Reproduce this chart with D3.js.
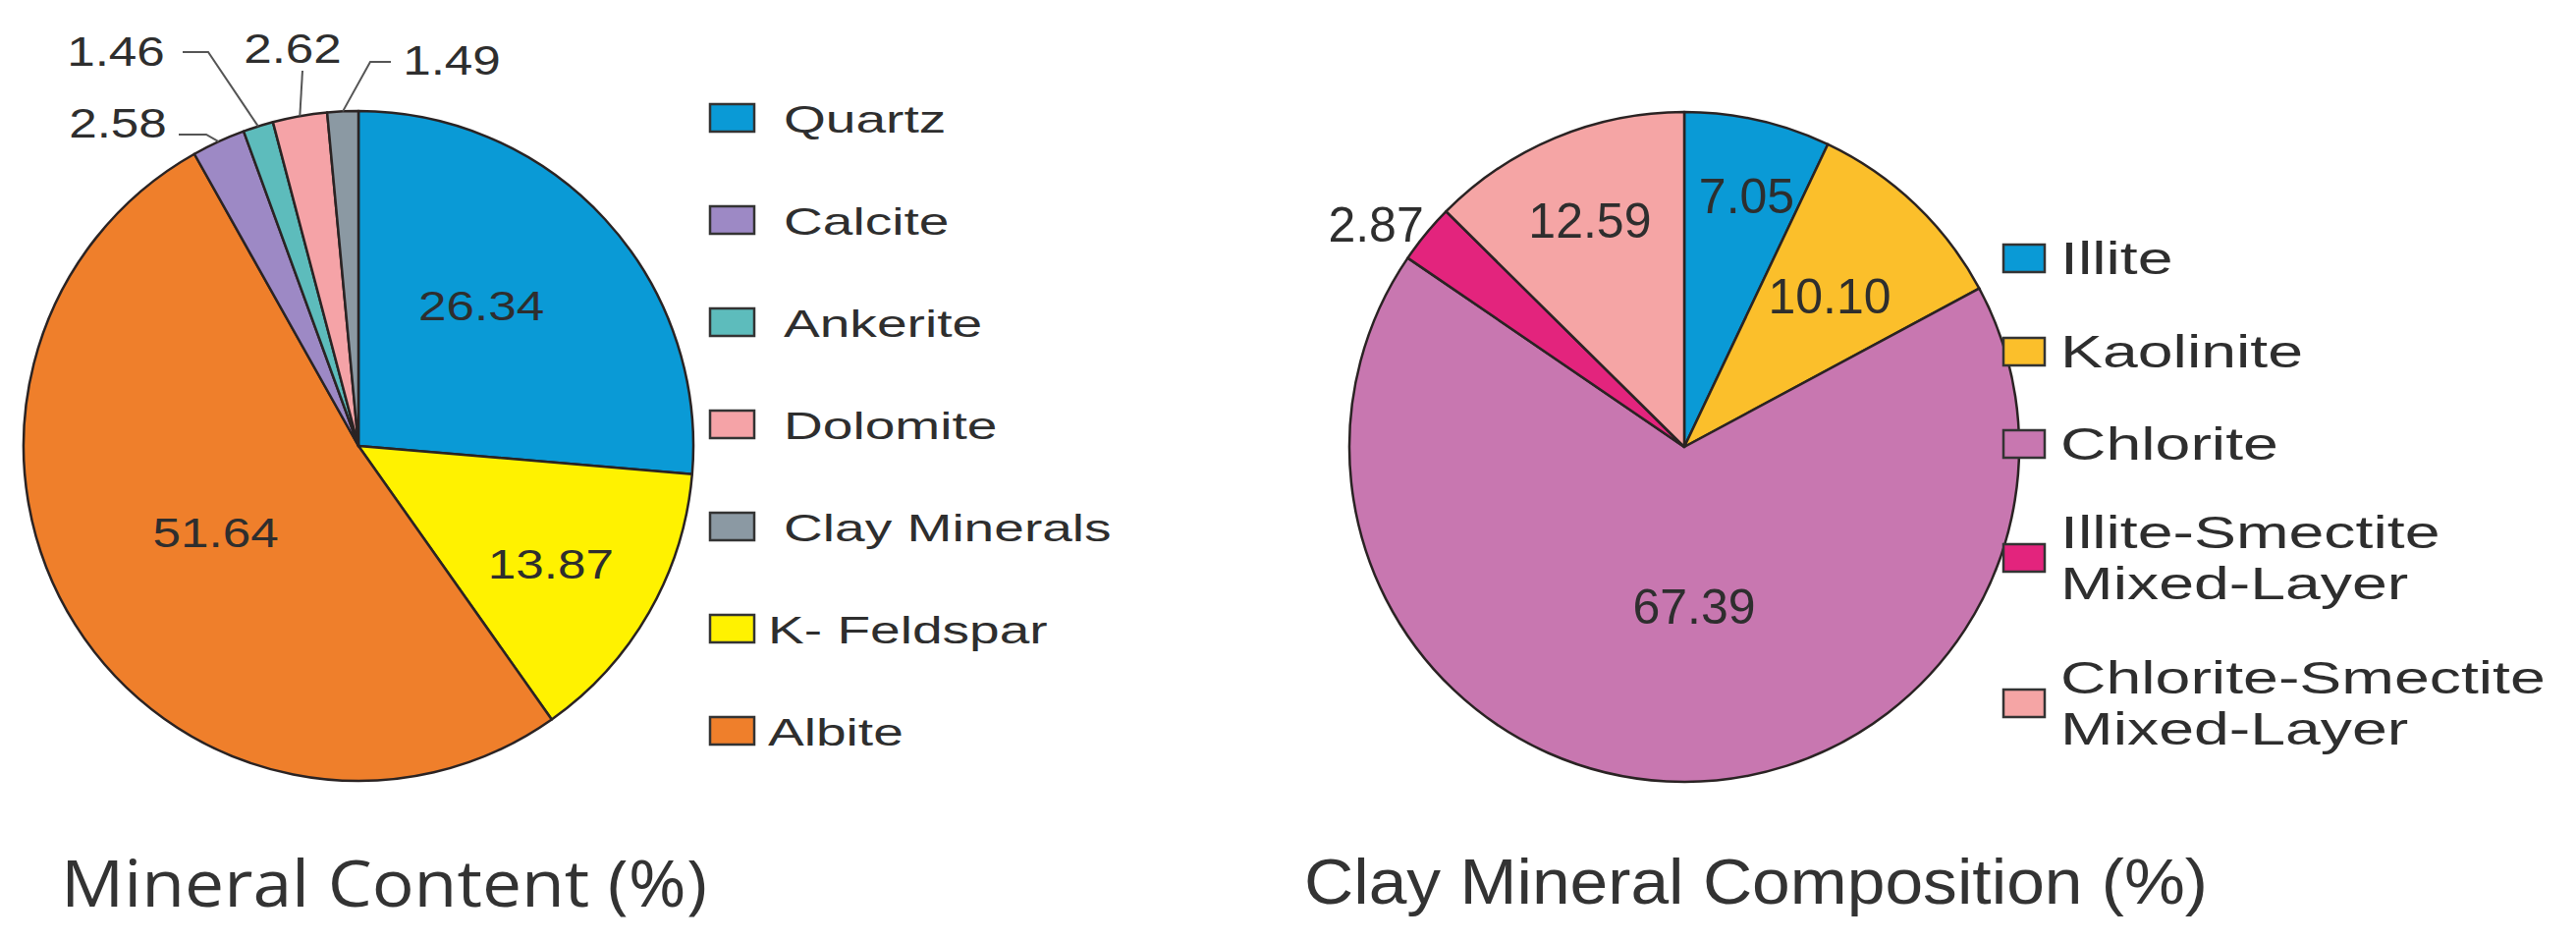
<!DOCTYPE html>
<html><head><meta charset="utf-8">
<script src="https://cdn.jsdelivr.net/npm/d3@7"></script>
<style>body{margin:0;background:#fff}svg{display:block}</style>
</head><body>
<svg id="c" width="2623" height="958"></svg>
<script>
// ---------- DATA ----------
const mineralCategories = ["Quartz", "K- Feldspar", "Albite", "Calcite", "Ankerite", "Dolomite", "Clay Minerals"];
const mineralValues = [26.34, 13.87, 51.64, 2.58, 1.46, 2.62, 1.49];
const mineralLegendOrder = ["Quartz", "Calcite", "Ankerite", "Dolomite", "Clay Minerals", "K- Feldspar", "Albite"];
const mineralTitle = "Mineral Content (%)";

const clayCategories = ["Illite", "Kaolinite", "Chlorite", "Illite-Smectite Mixed-Layer", "Chlorite-Smectite Mixed-Layer"];
const clayValues = [7.05, 10.10, 67.39, 2.87, 12.59];
const clayLegendLines = [["Illite"], ["Kaolinite"], ["Chlorite"], ["Illite-Smectite", "Mixed-Layer"], ["Chlorite-Smectite", "Mixed-Layer"]];
const clayTitle = "Clay Mineral Composition (%)";

// ---------- STYLE / LAYOUT ----------
const mineralColors = {
  "Quartz": "#0a9ad6", "Calcite": "#9d89c5", "Ankerite": "#5dbcbc", "Dolomite": "#f5a3a7",
  "Clay Minerals": "#8b99a3", "K- Feldspar": "#fff200", "Albite": "#ef7f2b"
};
const clayColors = {
  "Illite": "#0a9ad6", "Kaolinite": "#fbbf2b", "Chlorite": "#c877b0",
  "Illite-Smectite Mixed-Layer": "#e3247d", "Chlorite-Smectite Mixed-Layer": "#f5a5a5"
};
const TEXT = "#2e2e2e";
const STROKE = "#2a2323";
const FONT = "Liberation Sans, Arial, sans-serif";

const svg = d3.select("#c");
const pie = d3.pie().sort(null).value(d => d.v).startAngle(0).endAngle(2 * Math.PI);

function polar(cx, cy, ang, r) { return [cx + r * Math.sin(ang), cy - r * Math.cos(ang)]; }
function stretchedText(txt, x, y, fs, sx, anchor) {
  return svg.append("g").attr("transform", `translate(${x},${y}) scale(${sx},1)`)
    .append("text").text(txt).attr("font-family", FONT)
    .attr("font-size", fs).attr("fill", TEXT).attr("text-anchor", anchor || "start")
    .attr("dominant-baseline", "central");
}

// ---------- LEFT PIE ----------
(function () {
  const cx = 365, cy = 454, R = 341;
  const data = mineralCategories.map((c, i) => ({ c, v: mineralValues[i] }));
  const arcs = pie(data);
  const arc = d3.arc().innerRadius(0).outerRadius(R);
  const g = svg.append("g").attr("transform", `translate(${cx},${cy})`);
  g.selectAll("path").data(arcs).enter().append("path")
    .attr("d", arc).attr("fill", d => mineralColors[d.data.c])
    .attr("stroke", STROKE).attr("stroke-width", 2.5).attr("stroke-linejoin", "round");

  const sx = 1.22, fs = 42;
  // inside labels: [angle deg, radius frac]
  const inside = { "Quartz": [41.4, 0.555], "K- Feldspar": [121.7, 0.675], "Albite": [238.5, 0.5] };
  arcs.forEach(a => {
    const p = inside[a.data.c];
    if (p) {
      const [x, y] = polar(cx, cy, p[0] * Math.PI / 180, p[1] * R);
      stretchedText(a.data.v.toFixed(2), x, y, fs, sx, "middle");
    }
  });
  // outside labels with leader lines
  const outside = {
    "Calcite": { pts: [[210, 137], [182, 137]], tx: 120, ty: 126 },
    "Ankerite": { pts: [[212, 53], [186, 53]], tx: 118, ty: 53 },
    "Dolomite": { pts: [[308, 72]], tx: 298, ty: 50 },
    "Clay Minerals": { pts: [[377, 63], [398, 63]], tx: 460, ty: 62 }
  };
  arcs.forEach(a => {
    const o = outside[a.data.c];
    if (!o) return;
    const mid = (a.startAngle + a.endAngle) / 2;
    const start = polar(cx, cy, mid, R);
    svg.append("path").attr("d", d3.line()([start, ...o.pts])).attr("fill", "none")
      .attr("stroke", "#555").attr("stroke-width", 2);
    stretchedText(a.data.v.toFixed(2), o.tx, o.ty, fs, sx, "middle");
  });

  // legend
  const lx = 723, ly0 = 120, step = 104;
  mineralLegendOrder.forEach((c, i) => {
    const y = ly0 + i * step;
    svg.append("rect").attr("x", lx).attr("y", y - 14).attr("width", 45).attr("height", 28)
      .attr("fill", mineralColors[c]).attr("stroke", "#333").attr("stroke-width", 2.5);
    const tx = (c.startsWith("K-") || c === "Albite") ? 782 : 798;
    stretchedText(c, tx, y + 2, 38, 1.45, "start");
  });

  svg.append("text").text(mineralTitle).attr("x", 62).attr("y", 923)
    .attr("font-family", "Open Sans, Noto Sans, sans-serif").attr("font-size", 66)
    .attr("fill", "#333").attr("textLength", 658).attr("lengthAdjust", "spacingAndGlyphs");
})();

// ---------- RIGHT PIE ----------
(function () {
  const cx = 1715, cy = 455, R = 341;
  const data = clayCategories.map((c, i) => ({ c, v: clayValues[i] }));
  const arcs = pie(data);
  const arc = d3.arc().innerRadius(0).outerRadius(R);
  const g = svg.append("g").attr("transform", `translate(${cx},${cy})`);
  g.selectAll("path").data(arcs).enter().append("path")
    .attr("d", arc).attr("fill", d => clayColors[d.data.c])
    .attr("stroke", STROKE).attr("stroke-width", 2.5).attr("stroke-linejoin", "round");

  // label polar positions [angle deg, radius frac]
  const pos = {
    "Illite": [14.0, 0.77], "Kaolinite": [44.0, 0.625], "Chlorite": [176.5, 0.48],
    "Illite-Smectite Mixed-Layer": [305.8, 1.135], "Chlorite-Smectite Mixed-Layer": [337.3, 0.73]
  };
  arcs.forEach(a => {
    const p = pos[a.data.c];
    const [x, y] = polar(cx, cy, p[0] * Math.PI / 180, p[1] * R);
    svg.append("text").text(a.data.v.toFixed(2)).attr("x", x).attr("y", y)
      .attr("font-family", FONT).attr("font-size", 50)
      .attr("fill", TEXT).attr("text-anchor", "middle").attr("dominant-baseline", "central");
  });

  // legend
  const lx = 2040, ys = [263, 358, 452, 568, 716];
  clayCategories.forEach((c, i) => {
    const y = ys[i];
    svg.append("rect").attr("x", lx).attr("y", y - 14).attr("width", 42).attr("height", 28)
      .attr("fill", clayColors[c]).attr("stroke", "#333").attr("stroke-width", 2.5);
    const lines = clayLegendLines[i];
    const gt = svg.append("g").attr("transform", `translate(2098,0) scale(1.4,1)`);
    const t = gt.append("text").attr("font-family", FONT)
      .attr("font-size", 46).attr("fill", TEXT).attr("dominant-baseline", "central");
    lines.forEach((s, j) => {
      t.append("tspan").attr("x", 0).attr("y", y + (j - (lines.length - 1) / 2) * 52).text(s);
    });
  });

  svg.append("text").text(clayTitle).attr("x", 1328).attr("y", 920)
    .attr("font-family", FONT).attr("font-size", 64)
    .attr("fill", "#333").attr("textLength", 920).attr("lengthAdjust", "spacingAndGlyphs");
})();
</script>
</body></html>
